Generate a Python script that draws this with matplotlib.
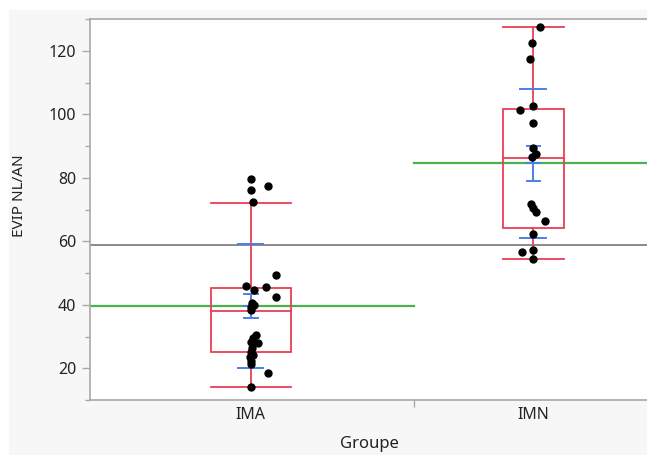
import matplotlib
matplotlib.use("Agg")
import matplotlib.pyplot as plt
from matplotlib.patches import Rectangle
import numpy as np

plt.rcParams['font.family'] = ['Noto Sans', 'DejaVu Sans']

# ---- data ----
groups = ["IMA", "IMN"]

ima_values = [79.6, 77.5, 76.2, 72.4, 49.4, 45.9, 45.7, 44.5, 42.4, 40.7, 40.0, 39.4,
              38.3, 30.5, 29.4, 28.4, 27.8, 26.3, 25.2, 24.2, 23.4, 22.3, 21.3, 18.4, 14.2]
ima_jitter = [0, 17, 0, 2, 25, -5, 15, 3, 25, 1, 3, 0,
              0, 5, 2, 0, 7, 1, 0, 2, -1, 0, 0, 17, 0]

imn_values = [127.5, 122.4, 117.4, 102.5, 101.4, 97.4, 89.5, 87.5, 86.5, 71.7, 70.6,
              69.3, 66.4, 62.4, 57.3, 56.5, 54.4]
imn_jitter = [7, -1, -3, 0, -13, 0, 0, 3, -1, -2, 0, 3, 12, 0, 0, -11, 0]

# box statistics (quantiles, whiskers), means, std dev, std error
q1 = [25.2, 64.1]
median = [38.1, 86.2]
q3 = [45.2, 101.6]
whisk_lo = [14.0, 54.4]
whisk_hi = [72.2, 127.5]
means = [39.6, 84.5]
sds = [19.6, 23.6]
ses = [3.9, 5.6]
grand_mean = 58.9

yticks = [20, 40, 60, 80, 100, 120]

# ---- layout ----
W, H = 647, 455
fig = plt.figure(figsize=(W / 100, H / 100), dpi=100)
fig.patch.set_facecolor('white')
fig.patches.append(Rectangle((9 / W, 0), 1 - 9 / W, (H - 10) / H,
                             transform=fig.transFigure, facecolor='#f7f7f7',
                             edgecolor='none', zorder=-10))

ax = fig.add_axes([90 / W, (H - 400) / H, 1 - 90 / W, (400 - 19) / H])
ax.set_facecolor('white')

px = 282.6  # pixels per category unit
xleft = (90 - 250.7) / px
xright = (647 - 250.7) / px
xsep = (414 - 250.7) / px
ax.set_xlim(xleft, xright)
ax.set_ylim(10, 130)

red = '#ea3e55'
blue = '#4a7fe6'
green = '#4db04f'

box_half = [40 / px, 30.5 / px]
sd_half = [12.5 / px, 13 / px]
se_half = [7 / px, 6.7 / px]
spans = [(xleft, xsep), (xsep, xright)]

# grand mean
ax.axhline(grand_mean, color='#8a8a8a', lw=1.4, zorder=1)

for i in range(2):
    c = i
    ax.plot(spans[i], [means[i], means[i]], color=green, lw=1.6, zorder=2)
    ax.add_patch(Rectangle((c - box_half[i], q1[i]), 2 * box_half[i], q3[i] - q1[i],
                           fill=False, edgecolor=red, lw=1.3, zorder=3))
    ax.plot([c - box_half[i], c + box_half[i]], [median[i]] * 2, color=red, lw=1.3, zorder=3)
    ax.plot([c, c], [whisk_lo[i], q1[i]], color=red, lw=1.3, zorder=3)
    ax.plot([c, c], [q3[i], whisk_hi[i]], color=red, lw=1.3, zorder=3)
    for w in (whisk_lo[i], whisk_hi[i]):
        ax.plot([c - box_half[i], c + box_half[i]], [w, w], color=red, lw=1.3, zorder=3)
    for w in (means[i] - sds[i], means[i] + sds[i]):
        ax.plot([c - sd_half[i], c + sd_half[i]], [w, w], color=blue, lw=1.4, zorder=4)
    ax.plot([c, c], [means[i] - ses[i], means[i] + ses[i]], color=blue, lw=1.4, zorder=4)
    for w in (means[i] - ses[i], means[i], means[i] + ses[i]):
        ax.plot([c - se_half[i], c + se_half[i]], [w, w], color=blue, lw=1.4, zorder=4)

# points
ax.scatter(0 + np.array(ima_jitter) / px, ima_values, s=36, color='black', zorder=5, linewidths=0)
ax.scatter(1 + np.array(imn_jitter) / px, imn_values, s=36, color='black', zorder=5, linewidths=0)

# axes styling
for s in ('left', 'bottom', 'top'):
    ax.spines[s].set_color('#a8a8a8')
    ax.spines[s].set_linewidth(1.2)
ax.spines['right'].set_visible(False)

ax.set_yticks(yticks)
ax.set_yticks(np.arange(10, 131, 10), minor=True)
ax.tick_params(axis='y', which='major', length=6, width=1, color='#a8a8a8',
               labelsize=11.5, labelcolor='#222222', pad=4)
ax.tick_params(axis='y', which='minor', length=3.5, width=1, color='#a8a8a8')

ax.set_xticks([0, 1])
ax.set_xticklabels(groups)
ax.set_xticks([xsep], minor=True)
ax.tick_params(axis='x', which='major', length=0, labelsize=11.5, labelcolor='#222222', pad=5)
ax.tick_params(axis='x', which='minor', length=5, width=1, color='#a8a8a8')

fig.text(20 / W, (H - 196) / H, 'EVIP NL/AN', rotation=90, ha='center', va='center',
         fontsize=11, color='#222222')
fig.text(369 / W, (H - 444) / H, 'Groupe', ha='center', va='center',
         fontsize=12, color='#222222')

fig.savefig('out.png', dpi=100)
